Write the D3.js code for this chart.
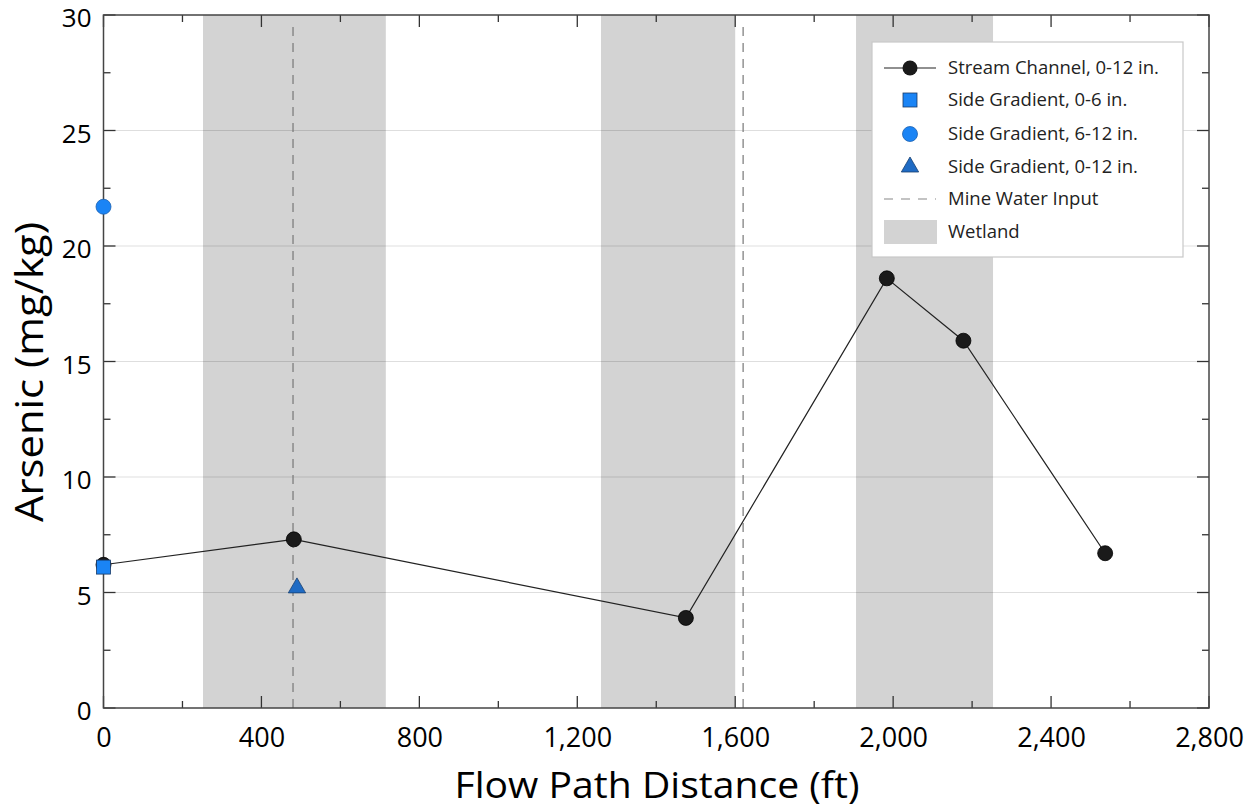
<!DOCTYPE html>
<html><head><meta charset="utf-8">
<script src="https://cdn.jsdelivr.net/npm/d3@7/dist/d3.min.js"></script>
<style>body{margin:0;background:#fff}svg{display:block}text{font-family:"Open Sans","Noto Sans",sans-serif}</style>
</head><body>
<svg id="c" width="1253" height="809"></svg>
<script>
const streamX = [0, 482, 1475, 1984, 2178, 2537];
const streamY = [6.2, 7.3, 3.9, 18.6, 15.9, 6.7];
const sideSquare = [{x: 0, y: 6.1}];
const sideCircle = [{x: 0, y: 21.7}];
const sideTriangle = [{x: 490, y: 5.2}];
const mineWaterInput = [480, 1620];
const wetlands = [[252, 715], [1260, 1600], [1906, 2253]];
const xTicks = [0, 400, 800, 1200, 1600, 2000, 2400, 2800];
const yTicks = [0, 5, 10, 15, 20, 25, 30];
const legendLabels = ["Stream Channel, 0-12 in.", "Side Gradient, 0-6 in.", "Side Gradient, 6-12 in.", "Side Gradient, 0-12 in.", "Mine Water Input", "Wetland"];

const svg = d3.select("#c");
const L = 103.5, R = 1209, T = 15, B = 708;
const x = d3.scaleLinear().domain([0, 2800]).range([L, R]);
const y = d3.scaleLinear().domain([0, 30]).range([B, T]);

// wetlands
svg.append("g").selectAll("rect").data(wetlands).join("rect")
  .attr("x", d => x(d[0])).attr("width", d => x(d[1]) - x(d[0]))
  .attr("y", T).attr("height", B - T).attr("fill", "#d3d3d3");

// gridlines
svg.append("g").selectAll("line").data(yTicks.filter(v => v > 0 && v < 30)).join("line")
  .attr("x1", L).attr("x2", R).attr("y1", d => y(d)).attr("y2", d => y(d))
  .attr("stroke", "#000").attr("stroke-opacity", 0.13).attr("stroke-width", 1);

// mine water input
svg.append("g").selectAll("line").data(mineWaterInput).join("line")
  .attr("x1", d => x(d)).attr("x2", d => x(d)).attr("y1", T + 12).attr("y2", B)
  .attr("stroke", "#777").attr("stroke-width", 1.2).attr("stroke-dasharray", "9,7");

// axes
const fmt = d3.format(",");
const xMinor = d3.range(0, 2801, 200);
const yMinor = d3.range(0, 30.1, 2.5);
function ticksX(g, yPos, dir) {
  g.selectAll("line").data(xMinor).join("line")
    .attr("x1", d => x(d)).attr("x2", d => x(d)).attr("y1", yPos)
    .attr("y2", d => yPos + dir * (d % 400 === 0 ? 12 : 7))
    .attr("stroke", "#333").attr("stroke-width", 1.3);
}
function ticksY(g, xPos, dir) {
  g.selectAll("line").data(yMinor).join("line")
    .attr("y1", d => y(d)).attr("y2", d => y(d)).attr("x1", xPos)
    .attr("x2", d => xPos + dir * (d % 5 === 0 ? 12 : 7))
    .attr("stroke", "#333").attr("stroke-width", 1.3);
}
ticksX(svg.append("g"), B, -1);
ticksX(svg.append("g"), T, 1);
ticksY(svg.append("g"), L, 1);
ticksY(svg.append("g"), R, -1);
svg.append("rect").attr("x", L).attr("y", T).attr("width", R - L).attr("height", B - T)
  .attr("fill", "none").attr("stroke", "#444").attr("stroke-width", 1.5);

// axis labels via d3 axes (labels only)
const xa = svg.append("g").attr("transform", `translate(0,${B})`)
  .call(d3.axisBottom(x).tickValues(xTicks).tickFormat(fmt).tickSize(0).tickPadding(20));
xa.select(".domain").remove();
xa.selectAll("text").attr("font-size", 27).attr("fill", "#000").attr("font-family", "Open Sans");
const ya = svg.append("g").attr("transform", `translate(${L},0)`)
  .call(d3.axisLeft(y).tickValues(yTicks).tickSize(0).tickPadding(12));
ya.select(".domain").remove();
ya.selectAll("text").attr("font-size", 26).attr("fill", "#000").attr("font-family", "Open Sans").attr("dy", "0.46em");

svg.append("text").attr("x", 657).attr("y", 798).attr("text-anchor", "middle")
  .attr("font-size", 37).attr("fill", "#000")
  .attr("textLength", 405).attr("lengthAdjust", "spacingAndGlyphs").text("Flow Path Distance (ft)");
svg.append("text").attr("transform", `translate(43,372) rotate(-90)`).attr("text-anchor", "middle")
  .attr("font-size", 39).attr("fill", "#000")
  .attr("textLength", 300).attr("lengthAdjust", "spacingAndGlyphs").text("Arsenic (mg/kg)");

// stream channel
const stream = streamX.map((v, i) => ({x: v, y: streamY[i]}));
svg.append("path").datum(stream)
  .attr("d", d3.line().x(d => x(d.x)).y(d => y(d.y)))
  .attr("fill", "none").attr("stroke", "#222").attr("stroke-width", 1.2);
svg.append("g").selectAll("circle").data(stream).join("circle")
  .attr("cx", d => x(d.x)).attr("cy", d => y(d.y)).attr("r", 7.5)
  .attr("fill", "#1a1a1a").attr("stroke", "#000").attr("stroke-width", 0.8);

// side gradient
const blue = "#1a84f5";
svg.append("g").selectAll("rect").data(sideSquare).join("rect")
  .attr("x", d => x(d.x) - 7).attr("y", d => y(d.y) - 7).attr("width", 14).attr("height", 14)
  .attr("fill", blue).attr("stroke", "#1a3a66").attr("stroke-width", 0.8);
svg.append("g").selectAll("circle").data(sideCircle).join("circle")
  .attr("cx", d => x(d.x)).attr("cy", d => y(d.y)).attr("r", 7.5)
  .attr("fill", blue).attr("stroke", "#1a5fb0").attr("stroke-width", 0.8);
const tri = d3.symbol().type(d3.symbolTriangle).size(130);
svg.append("g").selectAll("path").data(sideTriangle).join("path")
  .attr("transform", d => `translate(${x(d.x)},${y(d.y)})`).attr("d", tri)
  .attr("fill", "#1f6bc4").attr("stroke", "#173f70").attr("stroke-width", 0.8);

// legend
const lg = svg.append("g");
lg.append("rect").attr("x", 872).attr("y", 42).attr("width", 311).attr("height", 215)
  .attr("fill", "#fff").attr("stroke", "#c8c8c8").attr("stroke-width", 1.2);
const ly = [68, 100, 134, 167, 199, 232];
const sx = 910;
lg.append("line").attr("x1", 884).attr("x2", 936).attr("y1", ly[0]).attr("y2", ly[0]).attr("stroke", "#222").attr("stroke-width", 1.2);
lg.append("circle").attr("cx", sx).attr("cy", ly[0]).attr("r", 7.5).attr("fill", "#1a1a1a");
lg.append("rect").attr("x", sx - 7).attr("y", ly[1] - 7).attr("width", 14).attr("height", 14).attr("fill", blue).attr("stroke", "#1a3a66").attr("stroke-width", 0.8);
lg.append("circle").attr("cx", sx).attr("cy", ly[2]).attr("r", 7.5).attr("fill", blue).attr("stroke", "#1a5fb0").attr("stroke-width", 0.8);
lg.append("path").attr("transform", `translate(${sx},${ly[3]})`).attr("d", tri).attr("fill", "#1f6bc4").attr("stroke", "#173f70").attr("stroke-width", 0.8);
lg.append("line").attr("x1", 884).attr("x2", 936).attr("y1", ly[4]).attr("y2", ly[4]).attr("stroke", "#888").attr("stroke-width", 1.2).attr("stroke-dasharray", "9,8");
lg.append("rect").attr("x", 884).attr("y", ly[5] - 12).attr("width", 53).attr("height", 24).attr("fill", "#d3d3d3");
lg.selectAll("text.l").data(legendLabels).join("text").attr("class", "l")
  .attr("x", 948).attr("y", (d, i) => ly[i]).attr("dy", "0.35em")
  .attr("font-size", 18.5).attr("fill", "#222").text(d => d);
</script>
</body></html>
